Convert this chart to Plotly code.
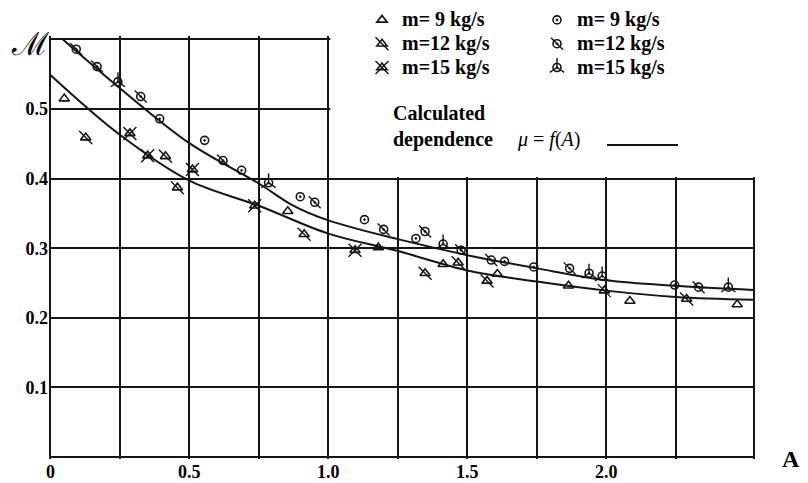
import plotly.graph_objects as go

# ---------------- data ----------------
# calculated dependence mu = f(A)
curve_upper_A = [0.045, 0.25, 0.5, 0.75, 0.87, 1.0, 1.25, 1.5, 1.75, 2.0, 2.25, 2.53]
curve_upper_mu = [0.600, 0.530, 0.451, 0.393, 0.362, 0.340, 0.313, 0.290, 0.271, 0.254, 0.246, 0.240]
curve_lower_A = [0.0, 0.25, 0.5, 0.75, 1.0, 1.25, 1.5, 1.75, 2.0, 2.25, 2.53]
curve_lower_mu = [0.549, 0.463, 0.397, 0.361, 0.321, 0.296, 0.268, 0.252, 0.239, 0.230, 0.226]

# triangles
tri9_A = [0.05, 0.854, 1.18, 1.413, 1.608, 1.864, 2.085, 2.471]
tri9_mu = [0.515, 0.353, 0.301, 0.277, 0.263, 0.246, 0.224, 0.219]
tri12_A = [0.127, 0.414, 0.457, 0.913, 1.348, 1.467, 1.571, 1.993, 2.289]
tri12_mu = [0.459, 0.432, 0.387, 0.320, 0.264, 0.279, 0.253, 0.239, 0.227]
tri15_A = [0.286, 0.35, 0.511, 0.735, 1.096]
tri15_mu = [0.465, 0.433, 0.413, 0.361, 0.297]

# circles
circ9_A = [0.393, 0.555, 0.688, 0.899, 1.13, 1.315, 1.634, 1.739, 2.246]
circ9_mu = [0.486, 0.455, 0.412, 0.374, 0.341, 0.314, 0.281, 0.273, 0.247]
circ12_A = [0.093, 0.168, 0.325, 0.621, 0.951, 1.199, 1.348, 1.478, 1.586, 1.868, 2.332]
circ12_mu = [0.586, 0.561, 0.518, 0.426, 0.366, 0.327, 0.324, 0.297, 0.283, 0.271, 0.244]
circ15_A = [0.243, 0.785, 1.413, 1.938, 1.985, 2.439]
circ15_mu = [0.539, 0.394, 0.306, 0.264, 0.260, 0.244]

series_names = ["m= 9 kg/s", "m=12 kg/s", "m=15 kg/s"]

x_tickvals = [0, 0.25, 0.5, 0.75, 1.0, 1.25, 1.5, 1.75, 2.0, 2.25, 2.53]
x_ticktext = ["0", "", "0.5", "", "1.0", "", "1.5", "", "2.0", "", ""]
y_tickvals = [0, 0.1, 0.2, 0.3, 0.4, 0.5, 0.6]
y_ticktext = ["", "0.1", "0.2", "0.3", "0.4", "0.5", ""]

# ---------------- figure ----------------
INK = "#151515"
fig = go.Figure()

for xa, ya in [(curve_upper_A, curve_upper_mu), (curve_lower_A, curve_lower_mu)]:
    fig.add_trace(go.Scatter(x=xa, y=ya, mode="lines", line=dict(color=INK, width=2, shape="spline", smoothing=1.0),
                             showlegend=False, hoverinfo="skip"))

mk_line = dict(color=INK, width=1.6)


def big(name):
    return '<span style="font-size:20px">' + name + '</span>'


def base(xa, ya, name, symbol, legend, size=9):
    fig.add_trace(go.Scatter(x=xa, y=ya, mode="markers", name=big(name), legend=legend,
                             hovertemplate=name + "<br>A=%{x}<br>μ=%{y}<extra></extra>",
                             marker=dict(symbol=symbol, size=size, color=INK, line=mk_line)))


def overlay(xa, ya, symbol, legend, size=13, visible_marker=True):
    col = INK if visible_marker else "rgba(0,0,0,0)"
    fig.add_trace(go.Scatter(x=xa, y=ya, mode="markers", name=" ", legend=legend, hoverinfo="skip",
                             marker=dict(symbol=symbol, size=size, color=col,
                                         line=dict(color=col, width=1.4))))


# triangles (legend) + tick overlays (legend3, same place)
base(tri9_A, tri9_mu, series_names[0], "triangle-up-open", "legend")
base(tri12_A, tri12_mu, series_names[1], "triangle-up-open", "legend")
base(tri15_A, tri15_mu, series_names[2], "triangle-up-open", "legend")
overlay(tri9_A, tri9_mu, "line-nw", "legend3", visible_marker=False)
overlay(tri12_A, tri12_mu, "line-nw", "legend3")
overlay(tri15_A, tri15_mu, "x-thin", "legend3")

# circles (legend2) + tick overlays (legend4)
base(circ9_A, circ9_mu, series_names[0], "circle-open-dot", "legend2", size=8)
base(circ12_A, circ12_mu, series_names[1], "circle-open-dot", "legend2", size=8)
base(circ15_A, circ15_mu, series_names[2], "circle-open-dot", "legend2", size=8)
overlay(circ9_A, circ9_mu, "line-nw", "legend4", visible_marker=False)
overlay(circ12_A, circ12_mu, "line-nw", "legend4", size=12)
overlay(circ15_A, circ15_mu, "y-up", "legend4", size=12)

# the page body has an 8px margin, so the figure is drawn 8px in from the window edge
OFF = 8
W, H = 808 - OFF, 483 - OFF
PL_S, PT_S, PW, PH = 49, 36, 706, 423          # plot area in window pixels
ML, MT = PL_S - OFF, PT_S - OFF
MR, MB = W - ML - PW, H - MT - PH


def px(xs):
    return (xs - PL_S) / PW


def py(ys):
    return (PT_S + PH - ys) / PH


leg_font = dict(family="Liberation Serif", size=16, color="black", weight="bold")
leg_common = dict(xanchor="left", yanchor="top", bgcolor="rgba(0,0,0,0)", font=leg_font,
                  itemclick=False, itemdoubleclick=False, tracegroupgap=0, borderwidth=0)

tickfont = dict(family="Liberation Serif", size=18, color="black", weight="bold")

LEG_TOP = 3
fig.update_layout(
    width=W, height=H,
    margin=dict(l=ML, r=MR, t=MT, b=MB, autoexpand=False),
    plot_bgcolor="white", paper_bgcolor="white",
    legend=dict(x=px(362), y=py(LEG_TOP), **leg_common),
    legend3=dict(x=px(362), y=py(LEG_TOP), **leg_common),
    legend2=dict(x=px(537), y=py(LEG_TOP), **leg_common),
    legend4=dict(x=px(537), y=py(LEG_TOP), **leg_common),
    xaxis=dict(range=[-0.005, 2.535], tickvals=x_tickvals, ticktext=x_ticktext, showgrid=True,
               gridcolor=INK, gridwidth=2, zeroline=False, showline=False, ticks="",
               tickfont=tickfont, fixedrange=True, automargin=False),
    yaxis=dict(range=[-0.003, 0.605], tickvals=y_tickvals, ticktext=y_ticktext, showgrid=True,
               gridcolor=INK, gridwidth=2, zeroline=False, showline=False, ticks="",
               tickfont=tickfont, fixedrange=True, automargin=False),
    shapes=[
        # legend area: no grid above 0.4 right of A = 1.0
        dict(type="rect", xref="x", yref="y", x0=1.007, x1=2.535, y0=0.4025, y1=0.605,
             fillcolor="white", line=dict(width=0), layer="between"),
        # legend sample line for calculated dependence
        dict(type="line", xref="paper", yref="paper", x0=px(607), x1=px(678), y0=py(145), y1=py(145),
             line=dict(color=INK, width=2)),
    ],
    annotations=[
        dict(text="Calculated<br>dependence", x=px(391), y=py(127), xref="paper", yref="paper",
             xanchor="left", yanchor="middle", align="left", showarrow=False,
             font=dict(family="Liberation Serif", size=20, color="black", weight="bold")),
        dict(text="<i>μ</i> = <i>f</i>(<i>A</i>)", x=px(515), y=py(139), xref="paper", yref="paper",
             xanchor="left", yanchor="middle", showarrow=False,
             font=dict(family="Liberation Serif", size=20, color="black")),
        dict(text="ℳ", x=px(30), y=py(44), xref="paper", yref="paper", xanchor="center", yanchor="middle",
             showarrow=False, font=dict(family="DejaVu Serif", size=32, color="black")),
        dict(text="A", x=px(791), y=py(459), xref="paper", yref="paper", xanchor="center", yanchor="middle",
             showarrow=False, font=dict(family="Liberation Serif", size=24, color="black", weight="bold")),
    ],
)

fig.write_html("out.html")
